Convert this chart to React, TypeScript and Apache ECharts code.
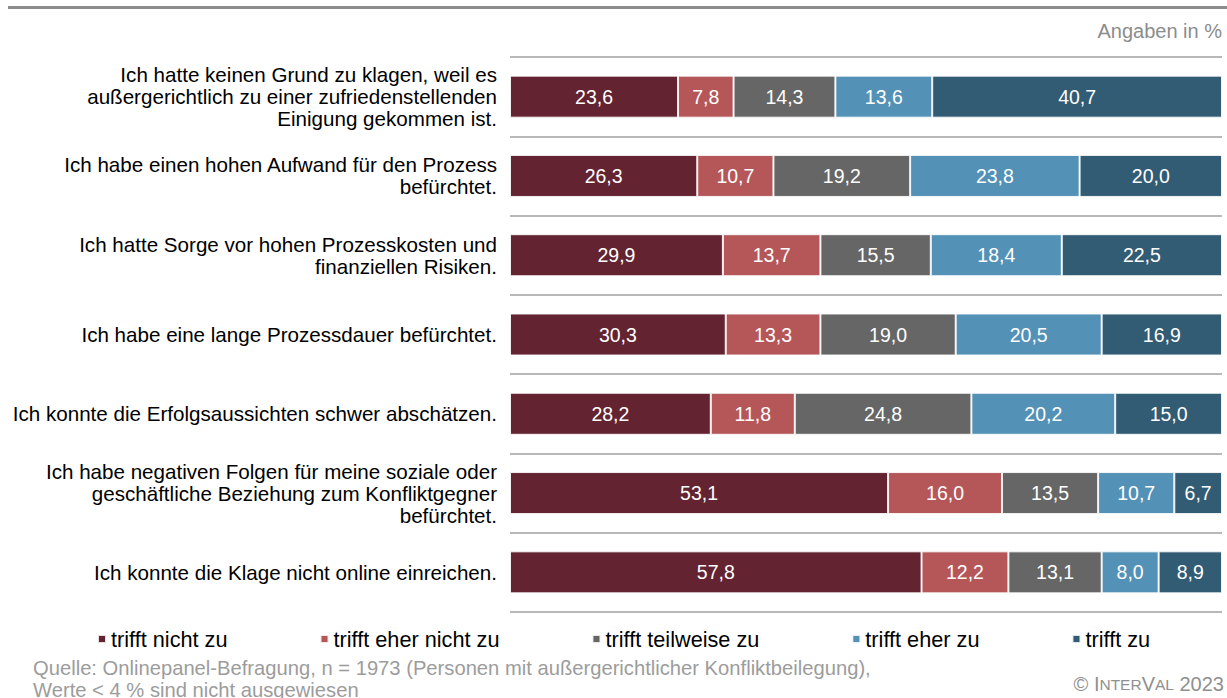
import React, { useEffect, useRef } from "react";
import * as echarts from "echarts";

const categories = [
  "Ich hatte keinen Grund zu klagen, weil es\naußergerichtlich zu einer zufriedenstellenden\nEinigung gekommen ist.",
  "Ich habe einen hohen Aufwand für den Prozess\nbefürchtet.",
  "Ich hatte Sorge vor hohen Prozesskosten und\nfinanziellen Risiken.",
  "Ich habe eine lange Prozessdauer befürchtet.",
  "Ich konnte die Erfolgsaussichten schwer abschätzen.",
  "Ich habe negativen Folgen für meine soziale oder\ngeschäftliche Beziehung zum Konfliktgegner\nbefürchtet.",
  "Ich konnte die Klage nicht online einreichen.",
];

const seriesNames = [
  "trifft nicht zu",
  "trifft eher nicht zu",
  "trifft teilweise zu",
  "trifft eher zu",
  "trifft zu",
];

const trifftNichtZu = [23.6, 26.3, 29.9, 30.3, 28.2, 53.1, 57.8];
const trifftEherNichtZu = [7.8, 10.7, 13.7, 13.3, 11.8, 16.0, 12.2];
const trifftTeilweiseZu = [14.3, 19.2, 15.5, 19.0, 24.8, 13.5, 13.1];
const trifftEherZu = [13.6, 23.8, 18.4, 20.5, 20.2, 10.7, 8.0];
const trifftZu = [40.7, 20.0, 22.5, 16.9, 15.0, 6.7, 8.9];

const seriesValues = [trifftNichtZu, trifftEherNichtZu, trifftTeilweiseZu, trifftEherZu, trifftZu];
const colors = ["#632331", "#B55759", "#666666", "#5391B7", "#325B74"];

const FONT = "'Liberation Sans', Arial, Helvetica, sans-serif";

export default function App() {
  const ref = useRef<HTMLDivElement>(null);

  useEffect(() => {
    if (!ref.current) return;
    document.body.style.margin = "0";
    const chart = echarts.init(ref.current, undefined, { renderer: "svg" });

    const option: any = {
      animation: false,
      textStyle: { fontFamily: FONT },
      grid: { left: 510, right: 5, top: 57, bottom: 86 },
      xAxis: { type: "value", min: 0, max: 100, show: false },
      yAxis: {
        type: "category",
        inverse: true,
        data: categories,
        axisLine: { show: false },
        axisTick: { show: false },
        axisLabel: {
          color: "#000",
          fontSize: 20.6,
          lineHeight: 22,
          margin: 13,
          align: "right",
          fontFamily: FONT,
        },
        splitLine: { show: true, lineStyle: { color: "#b8b8b8", width: 2 } },
      },
      legend: {
        data: seriesNames,
        left: 97,
        top: 628,
        icon: "rect",
        itemWidth: 8,
        itemHeight: 8,
        itemGap: 92,
        padding: 0,
        selectedMode: false,
        textStyle: { fontSize: 21.7, color: "#000", fontFamily: FONT },
      },
      series: seriesNames.map((n, i) => ({
        name: n,
        type: "bar",
        stack: "total",
        barWidth: 42,
        data: seriesValues[i],
        itemStyle: { color: colors[i], borderColor: "rgba(255,255,255,0.85)", borderWidth: 1 },
        label: {
          show: true,
          position: "inside",
          color: "#fff",
          fontSize: 19.5,
          fontFamily: FONT,
          formatter: (p: any) => (p.value < 4 ? "" : Number(p.value).toFixed(1).replace(".", ",")),
        },
      })),
      graphic: [
        { type: "rect", shape: { x: 8, y: 6, width: 1219, height: 3 }, style: { fill: "#8c8c8c" } },
        {
          type: "text",
          x: 1222,
          y: 31,
          style: {
            text: "Angaben in %",
            fill: "#8c8c8c",
            fontSize: 20,
            fontFamily: FONT,
            align: "right",
            verticalAlign: "middle",
          },
        },
        {
          type: "text",
          x: 33,
          y: 668,
          style: {
            text: "Quelle: Onlinepanel-Befragung, n = 1973 (Personen mit außergerichtlicher Konfliktbeilegung),",
            fill: "#9c9c9c",
            fontSize: 20.2,
            fontFamily: FONT,
            align: "left",
            verticalAlign: "middle",
          },
        },
        {
          type: "text",
          x: 33,
          y: 690,
          style: {
            text: "Werte < 4 % sind nicht ausgewiesen",
            fill: "#9c9c9c",
            fontSize: 20.2,
            fontFamily: FONT,
            align: "left",
            verticalAlign: "middle",
          },
        },
        {
          type: "text",
          x: 1224,
          y: 684,
          style: {
            text: "{a|© I}{b|NTER}{a|V}{b|AL}{a| 2023}",
            fill: "#909090",
            fontFamily: FONT,
            align: "right",
            verticalAlign: "middle",
            rich: {
              a: { fontSize: 20, fill: "#909090", fontFamily: FONT },
              b: { fontSize: 15.5, fill: "#909090", fontFamily: FONT },
            },
          },
        },
      ],
    };

    chart.setOption(option);
    return () => chart.dispose();
  }, []);

  return (
    <div
      ref={ref}
      style={{ position: "fixed", left: 0, top: 0, width: 1227, height: 698, background: "#fff" }}
    />
  );
}
